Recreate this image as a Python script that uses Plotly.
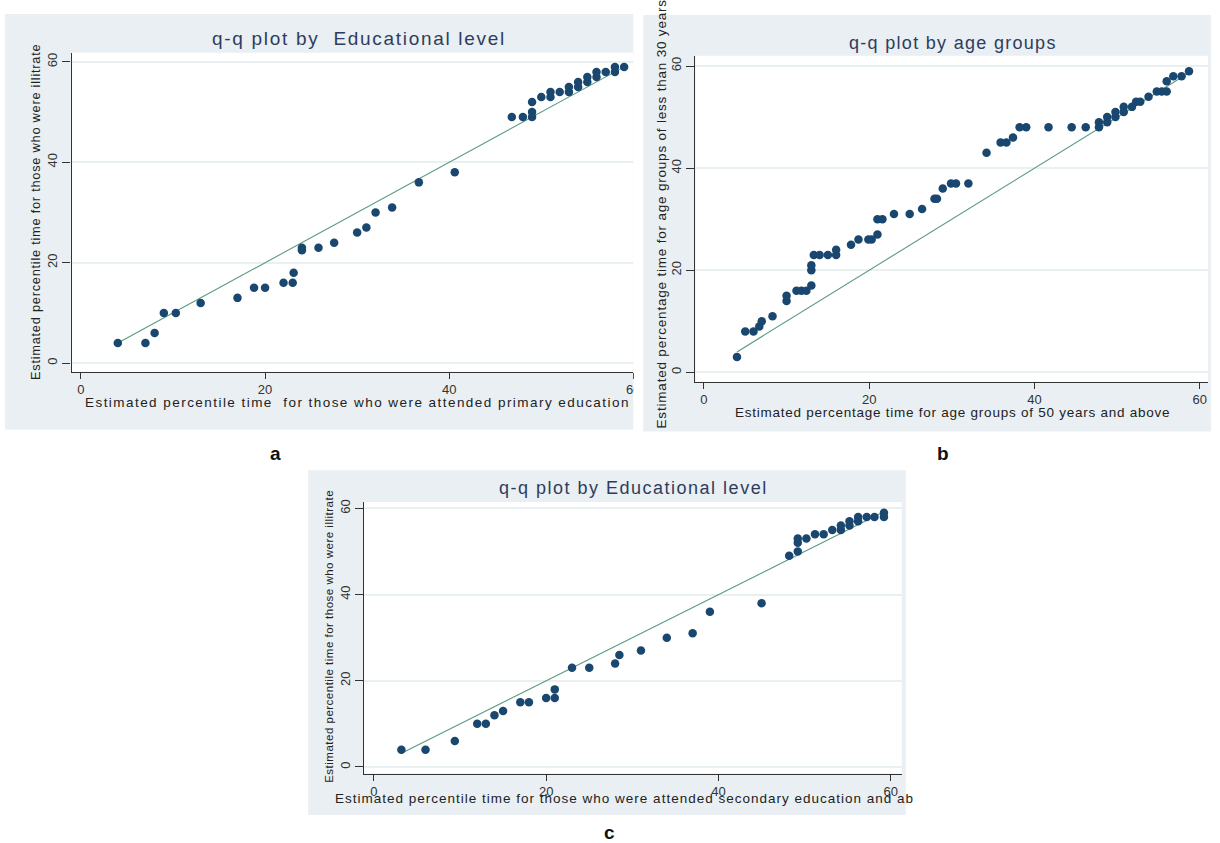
import plotly.graph_objects as go

# ---------------- data ----------------
# Panel a: primary education (x) vs illiterate (y)
x_a = [4, 7, 8, 9, 10.3, 13, 17, 18.8, 20, 22, 23, 23.1, 24, 24, 25.8, 27.5, 30, 31, 32, 33.8,
       36.7, 40.6, 46.8, 48, 49, 49, 49, 50, 51, 51, 52, 53, 53, 54, 54, 55, 55, 56, 56, 57, 58, 58, 59]
y_a = [4, 4, 6, 10, 10, 12, 13, 15, 15, 16, 16, 18, 23, 22.5, 23, 24, 26, 27, 30, 31,
       36, 38, 49, 49, 49, 50, 52, 53, 53, 54, 54, 54, 55, 55, 56, 56, 57, 57, 58, 58, 58, 59, 59]

# Panel b: age 50+ (x) vs age <30 (y)
x_b = [4, 5, 6, 6.7, 7, 8.3, 10, 10, 11.2, 11.8, 12.4, 13, 13, 13, 13.3, 14, 15, 16, 16, 17.8,
       18.7, 19.9, 20.3, 21, 21, 21.6, 23, 24.9, 26.4, 27.9, 28.2, 28.9, 29.9, 30.5, 32, 34.2,
       35.9, 36.6, 37.4, 38.2, 39, 41.7, 44.5, 46.2, 47.8, 47.8, 48.8, 48.8, 49.8, 49.8, 50.8,
       50.8, 51.8, 52.3, 52.8, 53.8, 54.8, 55.4, 56, 56, 56.8, 57.8, 58.7]
y_b = [3, 8, 8, 9, 10, 11, 14, 15, 16, 16, 16, 17, 20, 21, 23, 23, 23, 23, 24, 25,
       26, 26, 26, 27, 30, 30, 31, 31, 32, 34, 34, 36, 37, 37, 37, 43,
       45, 45, 46, 48, 48, 48, 48, 48, 48, 49, 49, 50, 50, 51, 51,
       52, 52, 53, 53, 54, 55, 55, 55, 57, 58, 58, 59]

# Panel c: secondary education (x) vs illiterate (y)
x_c = [3.2, 6, 9.4, 12, 13, 14, 15, 17, 18, 20, 21, 21, 23, 25, 28, 28.5, 31, 34, 37, 39,
       45, 48.2, 49.2, 49.2, 49.2, 50.2, 51.2, 52.2, 53.2, 54.2, 54.2, 55.2, 55.2, 56.2, 56.2,
       57.2, 58.1, 59.2, 59.2]
y_c = [4, 4, 6, 10, 10, 12, 13, 15, 15, 16, 16, 18, 23, 23, 24, 26, 27, 30, 31, 36,
       38, 49, 50, 52, 53, 53, 54, 54, 55, 55, 56, 56, 57, 57, 58,
       58, 58, 58, 59]

tick_vals = [0, 20, 40, 60]
tick_text = ["0", "20", "40", "60"]

titles = ["q-q plot by\u00a0 Educational level", "q-q plot by age groups", "q-q plot by Educational level"]
x_titles = ["Estimated percentile time\u00a0 for those who were attended primary education",
            "Estimated percentage time for age groups of 50 years and above",
            "Estimated percentile time for those who were attended secondary education and ab"]
y_titles = ["Estimated percentile time for those who were illitrate",
            "Estimated percentage time for age groups of less than 30 years",
            "Estimated percentile time for those who were illitrate"]
panel_letters = ["a", "b", "c"]

# ---------------- layout geometry (pixels) ----------------
W, H = 1220, 843
FONT = "Liberation Sans, Arial, sans-serif"
MARKER = "#1a476f"
LINE = "#5a9a82"
PANEL_BG = "#e9eff2"
TITLE_C = "#2e3d5e"


def px(x):
    return x / W


def py(y):
    return 1 - y / H


def spaced(text, ls):
    return '<span style="letter-spacing:%.2fpx">%s</span>' % (ls, text)


# plot area: (left, right, top, bottom) pixels; axis ranges
# title / axis-title entries: (x, y, font size, letter spacing)
panels = [
    dict(l=72, r=637, t=50, b=370, xr=[-1.02, 60.0], yr=[-1.7, 61.8],
         bg=(5, 637, 11, 428), title=(361, 36, 19, 1.7), xt=(360, 401, 13.5, 1.45),
         yt=(35, 210, 12.8, 0.75), letter=(277, 452)),
    dict(l=699.5, r=1215, t=53, b=380, xr=[-1.02, 61.0], yr=[-1.82, 62.0],
         bg=(647, 1218, 12, 430), title=(959, 40, 18, 1.3), xt=(958, 411, 13.5, 0.75),
         yt=(665, 212, 13.5, 0.8), letter=(948, 452)),
    dict(l=366, r=907, t=500.7, b=773.3, xr=[-1.15, 61.27], yr=[-1.53, 61.5],
         bg=(310, 911, 469, 815), title=(637, 487, 18, 1.5), xt=(335, 798, 13.5, 1.0),
         yt=(331, 636, 11.5, 0.5), letter=(613, 832)),
]

data_x = [x_a, x_b, x_c]
data_y = [y_a, y_b, y_c]

fig = go.Figure()
shapes = []
annotations = []
layout_axes = {}

for i, p in enumerate(panels):
    n = "" if i == 0 else str(i + 1)
    xa, ya = "x" + n, "y" + n
    xs, ys = data_x[i], data_y[i]

    # reference line y = x over the data range
    lo, hi = min(xs), max(xs)
    fig.add_trace(go.Scatter(x=[lo, hi], y=[lo, hi], mode="lines",
                             line=dict(color=LINE, width=1.1), xaxis=xa, yaxis=ya,
                             showlegend=False, hoverinfo="skip"))
    fig.add_trace(go.Scatter(x=xs, y=ys, mode="markers",
                             marker=dict(color=MARKER, size=8.5, line=dict(width=0)),
                             xaxis=xa, yaxis=ya, showlegend=False))

    layout_axes["xaxis" + n] = dict(
        domain=[px(p["l"]), px(p["r"])], range=p["xr"], anchor=ya,
        tickvals=tick_vals, ticktext=tick_text, ticks="outside", ticklen=6,
        tickcolor="#333", tickwidth=1, showline=True, linecolor="#333", linewidth=1.3,
        showgrid=False, zeroline=False, tickfont=dict(family=FONT, size=13, color="#333"),
    )
    layout_axes["yaxis" + n] = dict(
        domain=[py(p["b"]), py(p["t"])], range=p["yr"], anchor=xa,
        tickvals=tick_vals, ticktext=tick_text, ticks="outside", ticklen=8,
        tickcolor="#333", tickwidth=1, showline=True, linecolor="#333", linewidth=1.3,
        showgrid=True, gridcolor="#e8f0f2", gridwidth=1.5, zeroline=False, tickangle=-90,
        tickfont=dict(family=FONT, size=13, color="#333"),
    )

    bx0, bx1, by0, by1 = p["bg"]
    shapes.append(dict(type="rect", xref="paper", yref="paper", layer="below",
                       x0=px(bx0), x1=px(bx1), y0=py(by1), y1=py(by0),
                       fillcolor=PANEL_BG, line=dict(width=0)))
    shapes.append(dict(type="rect", xref="paper", yref="paper", layer="below",
                       x0=px(p["l"]), x1=px(p["r"]), y0=py(p["b"]), y1=py(p["t"]),
                       fillcolor="white", line=dict(width=0)))

    tx, ty, ts, tl = p["title"]
    annotations.append(dict(text=spaced(titles[i], tl), xref="paper", yref="paper",
                            x=px(tx), y=py(ty), showarrow=False, xanchor="center", yanchor="middle",
                            font=dict(family=FONT, size=ts, color=TITLE_C)))
    xx, xy, xsz, xl = p["xt"]
    annotations.append(dict(text=spaced(x_titles[i], xl), xref="paper", yref="paper",
                            x=px(xx), y=py(xy), showarrow=False,
                            xanchor="center" if i < 2 else "left", yanchor="middle",
                            font=dict(family=FONT, size=xsz, color="#222")))
    yx, yy, ysz, yl = p["yt"]
    annotations.append(dict(text=spaced(y_titles[i], yl), xref="paper", yref="paper",
                            x=px(yx), y=py(yy), showarrow=False, xanchor="center", yanchor="middle",
                            textangle=-90, font=dict(family=FONT, size=ysz, color="#222")))
    lx, ly = p["letter"]
    annotations.append(dict(text="<b>%s</b>" % panel_letters[i], xref="paper", yref="paper",
                            x=px(lx), y=py(ly), showarrow=False, xanchor="center", yanchor="middle",
                            font=dict(family=FONT, size=19, color="#111")))

# panel a is cropped at its right edge in the original figure
shapes.append(dict(type="rect", xref="paper", yref="paper", layer="above",
                   x0=px(637.5), x1=px(646.5), y0=py(430), y1=py(360),
                   fillcolor="white", line=dict(width=0)))

fig.update_layout(
    width=W, height=H, margin=dict(l=0, r=0, t=0, b=0), autosize=False,
    paper_bgcolor="white", plot_bgcolor="rgba(0,0,0,0)",
    shapes=shapes, annotations=annotations, showlegend=False,
    **layout_axes,
)

fig.write_html("out.html", config={"displayModeBar": False, "responsive": False},
               post_script="document.body.style.margin='0px';document.body.style.overflow='hidden';")
